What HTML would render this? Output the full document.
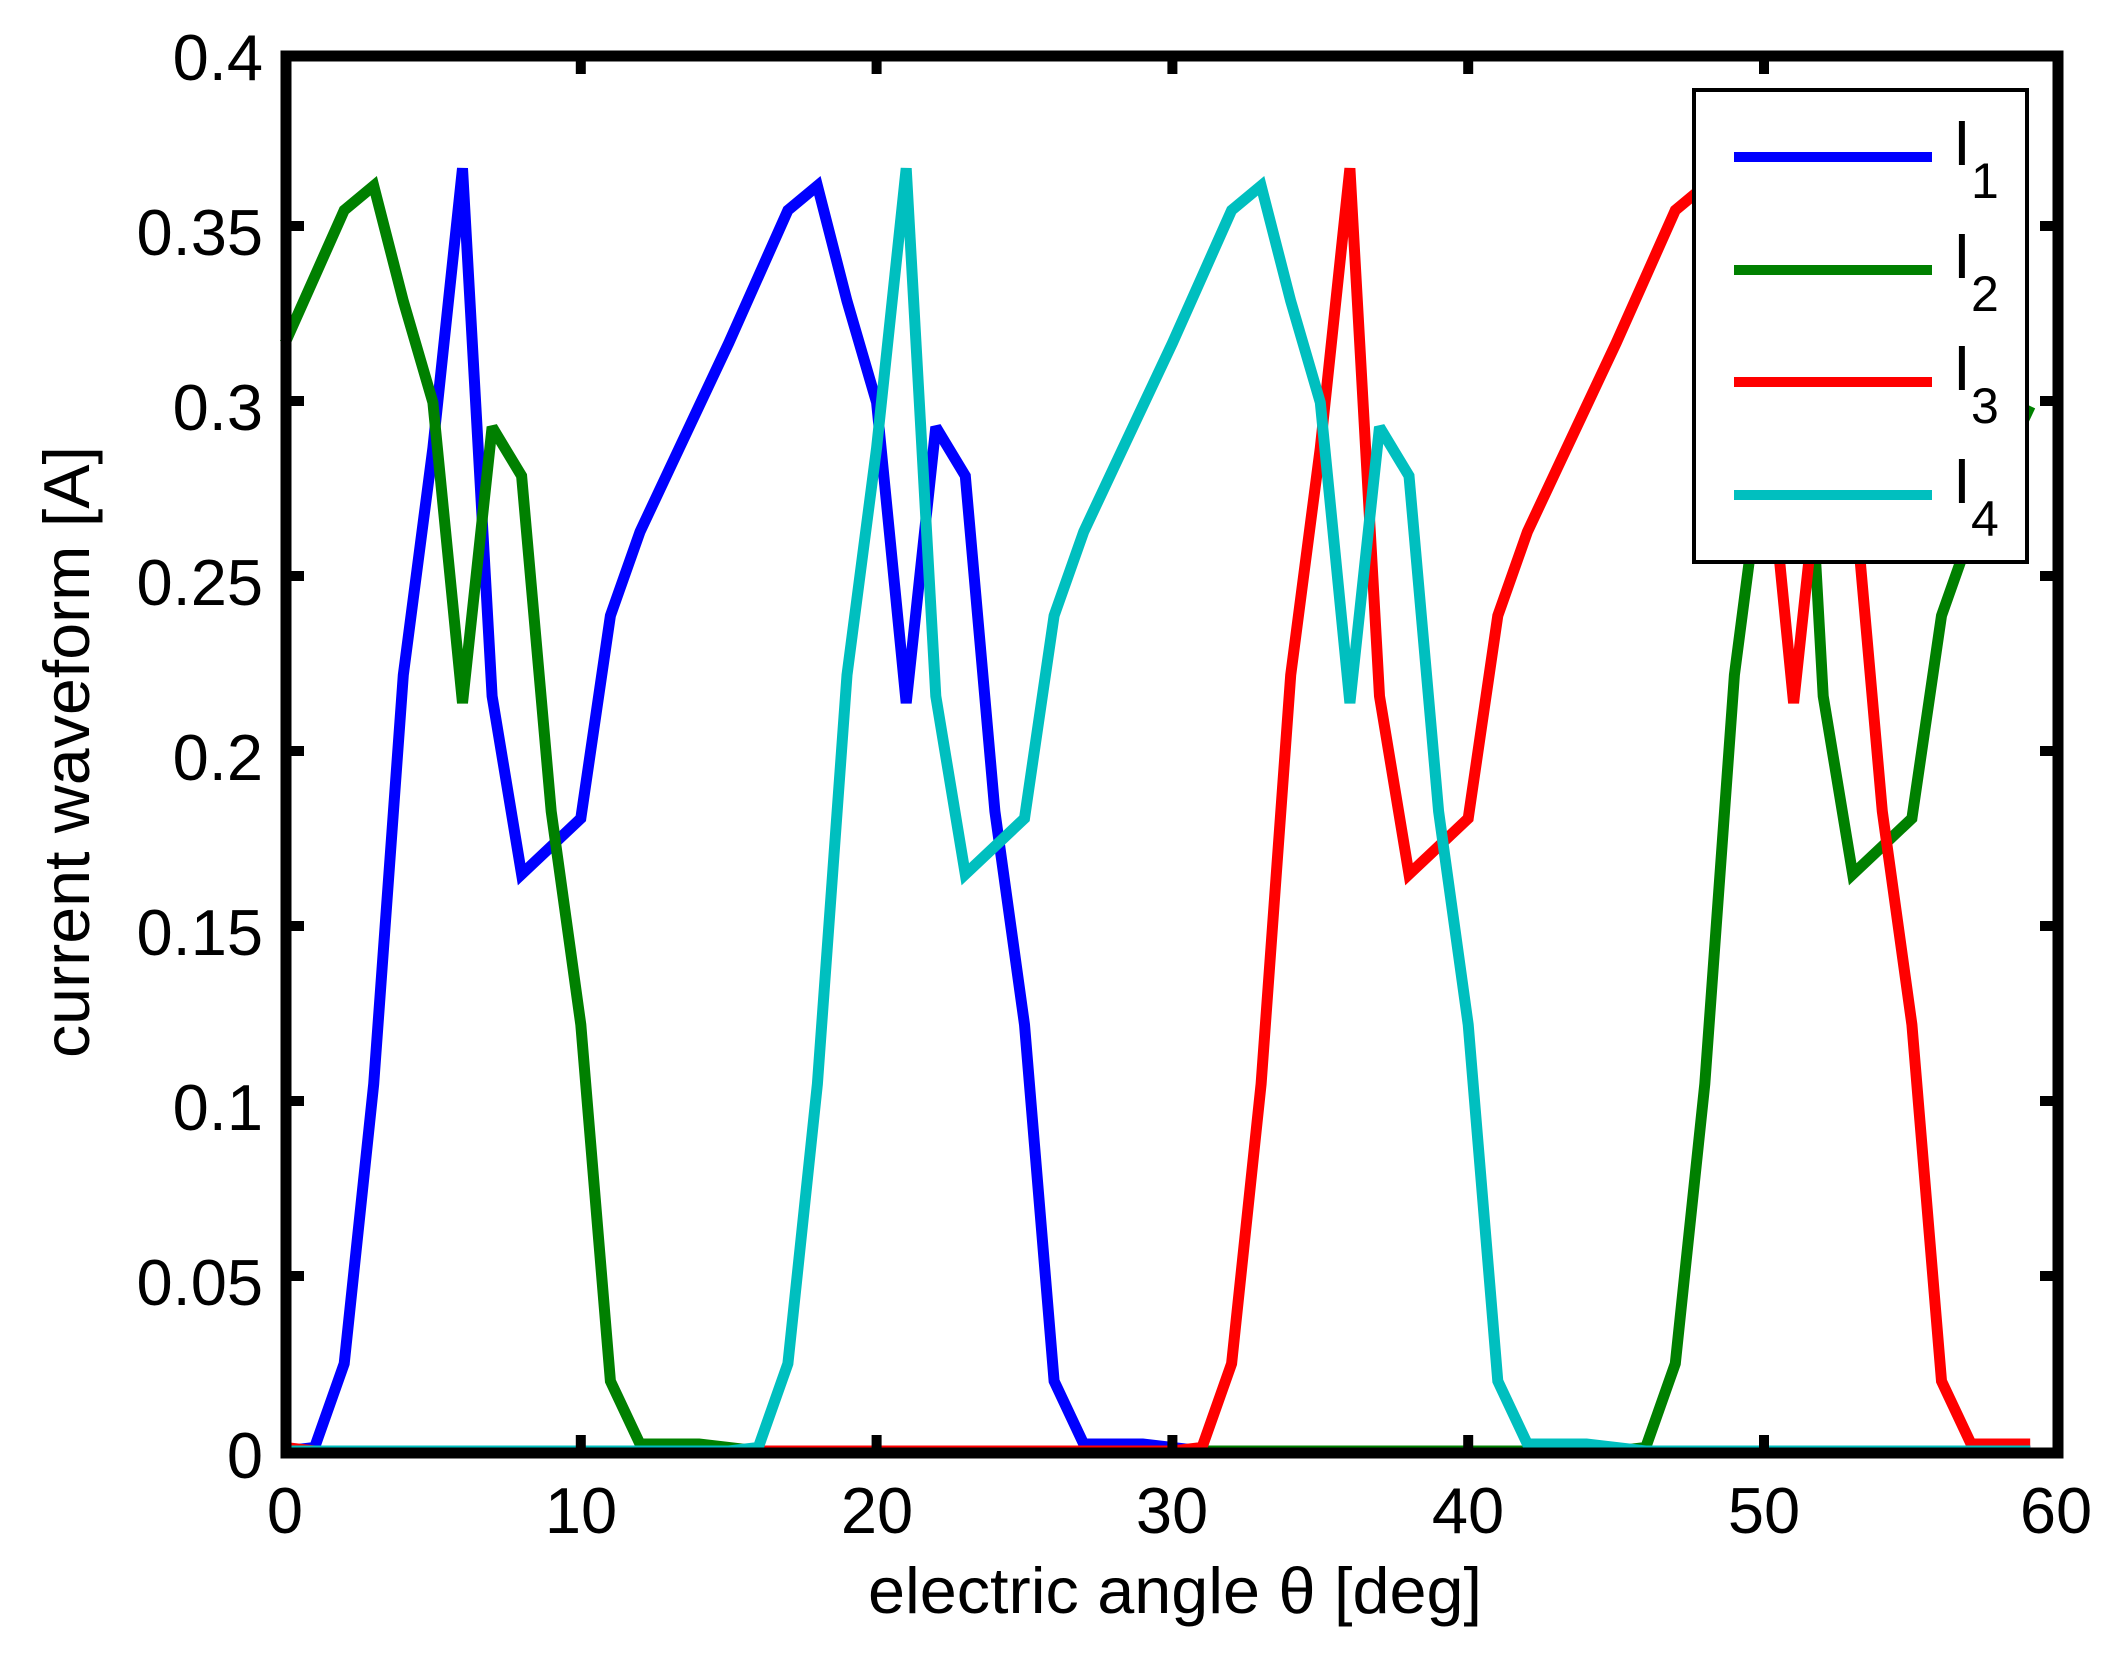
<!DOCTYPE html>
<html><head><meta charset="utf-8"><style>
html,body{margin:0;padding:0;background:#fff;}
svg{display:block;}
text{font-family:"Liberation Sans",Arial,sans-serif;fill:#000;}
</style></head><body>
<svg id="s" width="2128" height="1666" viewBox="0 0 2128 1666" xmlns="http://www.w3.org/2000/svg">
<rect width="2128" height="1666" fill="#fff"/>
<g id="series" fill="none" stroke-width="11" stroke-linejoin="miter" stroke-miterlimit="2.5"></g>
<g stroke="#000" stroke-width="11" fill="none">
<rect x="286" y="56" width="1772" height="1397"/>
</g>
<g id="ticks" stroke="#000" stroke-width="10"></g>
<g font-size="65" text-anchor="end">
<text x="263" y="80">0.4</text>
<text x="263" y="255">0.35</text>
<text x="263" y="430">0.3</text>
<text x="263" y="605">0.25</text>
<text x="263" y="780">0.2</text>
<text x="263" y="955">0.15</text>
<text x="263" y="1130">0.1</text>
<text x="263" y="1305">0.05</text>
<text x="263" y="1478">0</text>
</g>
<g font-size="65" text-anchor="middle">
<text x="285" y="1533">0</text>
<text x="581" y="1533">10</text>
<text x="877" y="1533">20</text>
<text x="1172" y="1533">30</text>
<text x="1468" y="1533">40</text>
<text x="1764" y="1533">50</text>
<text x="2056" y="1533">60</text>
</g>
<text x="1175" y="1613" font-size="65" text-anchor="middle" textLength="614" lengthAdjust="spacingAndGlyphs">electric angle θ [deg]</text>
<text transform="translate(89,752) rotate(-90)" font-size="65" text-anchor="middle" textLength="612" lengthAdjust="spacingAndGlyphs">current waveform [A]</text>
<rect x="1694" y="90" width="333" height="472" fill="#fff" stroke="#000" stroke-width="4"/>
<g stroke-width="10">
<line x1="1734" y1="157" x2="1932" y2="157" stroke="#0000ff"/>
<line x1="1734" y1="270" x2="1932" y2="270" stroke="#008000"/>
<line x1="1734" y1="382" x2="1932" y2="382" stroke="#ff0000"/>
<line x1="1734" y1="495" x2="1932" y2="495" stroke="#00bfbf"/>
</g>
<g font-size="64">
<text x="1953" y="165">I</text><text x="1971" y="198" font-size="50">1</text>
<text x="1953" y="278">I</text><text x="1971" y="311" font-size="50">2</text>
<text x="1953" y="390">I</text><text x="1971" y="423" font-size="50">3</text>
<text x="1953" y="503">I</text><text x="1971" y="536" font-size="50">4</text>
</g>
</svg>
<script>
var b=[0,0.001,0.025,0.105,0.222,0.287,0.367,0.216,0.165,0.173,0.181,0.239,0.263,0.281,0.299,0.317,0.336,0.355,0.362,0.329,0.300,0.214,0.293,0.279,0.183,0.122,0.020,0.002,0.002,0.002,0.001];
for(var i=31;i<60;i++)b.push(0);
function X(d){return 285+d*29.58;}
function Y(v){return 1451-v*3495;}
var ns="http://www.w3.org/2000/svg";
var g=document.getElementById("series");
var cfg=[["#0000ff",0],["#008000",15],["#ff0000",-30],["#00bfbf",-15]];
cfg.forEach(function(c){
  var pts=[];
  for(var k=0;k<60;k++){var v=b[((k+c[1])%60+60)%60];pts.push(X(k).toFixed(1)+","+Y(v).toFixed(1));}
  var p=document.createElementNS(ns,"polyline");
  p.setAttribute("points",pts.join(" "));p.setAttribute("stroke",c[0]);
  g.appendChild(p);
});
var t=document.getElementById("ticks");
function ln(x1,y1,x2,y2){var l=document.createElementNS(ns,"line");l.setAttribute("x1",x1);l.setAttribute("y1",y1);l.setAttribute("x2",x2);l.setAttribute("y2",y2);t.appendChild(l);}
for(var j=1;j<8;j++){var y=1451-j*175;ln(286,y,304,y);ln(2040,y,2058,y);}
for(var j=1;j<6;j++){var x=X(j*10);ln(x,1453,x,1435);ln(x,56,x,74);}
</script>
</body></html>
